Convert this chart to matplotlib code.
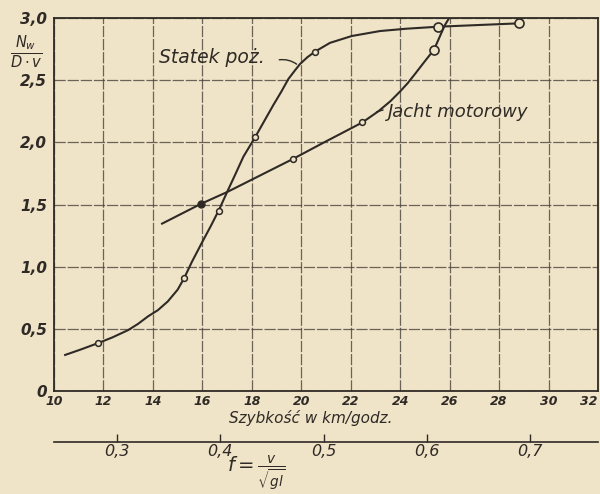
import matplotlib
matplotlib.use("Agg")
import matplotlib.pyplot as plt

# ---- data ----
# "Statek poż." traced curve (speed km/h, Nw/(D·v))
statek_curve_v = [10.45, 11.1, 11.78, 12.35, 13.0, 13.4, 13.8, 14.2, 14.6, 15.0, 15.27, 15.58,
                  16.0, 16.35, 16.68, 17.0, 17.35, 17.66, 18.13, 18.5, 18.87, 19.2, 19.48,
                  19.75, 19.95, 20.25, 20.56, 21.16, 22.04, 23.18, 24.26, 25.54, 28.8]
statek_curve_y = [0.29, 0.335, 0.385, 0.43, 0.49, 0.54, 0.60, 0.65, 0.72, 0.815, 0.91, 1.04,
                  1.20, 1.33, 1.46, 1.60, 1.75, 1.885, 2.04, 2.17, 2.30, 2.41, 2.51,
                  2.58, 2.63, 2.685, 2.73, 2.80, 2.855, 2.895, 2.914, 2.93, 2.957]
statek_pts_v = [11.78, 15.27, 16.68, 18.13, 20.56]
statek_pts_y = [0.385, 0.91, 1.45, 2.04, 2.73]
statek_big_v = [25.54, 28.8]
statek_big_y = [2.93, 2.957]

# "Jacht motorowy" traced curve
jacht_curve_v = [14.37, 15.95, 17.0, 19.67, 20.83, 22.47, 23.12, 23.6, 24.0, 24.3, 24.6,
                 24.95, 25.37, 25.6, 25.8, 25.95]
jacht_curve_y = [1.346, 1.506, 1.60, 1.867, 1.99, 2.16, 2.25, 2.33, 2.41, 2.475, 2.55,
                 2.64, 2.746, 2.85, 2.94, 2.99]
jacht_filled_v = [15.95]
jacht_filled_y = [1.506]
jacht_pts_v = [19.67, 22.47]
jacht_pts_y = [1.867, 2.16]
jacht_big_v = [25.37]
jacht_big_y = [2.746]

x_ticks = [10, 12, 14, 16, 18, 20, 22, 24, 26, 28, 30, 32]
x_labels = ["10", "12", "14", "16", "18", "20", "22", "24", "26", "28", "30", "32"]
y_ticks = [0, 0.5, 1.0, 1.5, 2.0, 2.5, 3.0]
y_labels = ["0", "0,5", "1,0", "1,5", "2,0", "2,5", "3,0"]
f_ticks = [0.3, 0.4, 0.5, 0.6, 0.7]
f_labels = ["0,3", "0,4", "0,5", "0,6", "0,7"]
F_SCALE = 41.8  # km/h per unit of f

# ---- style ----
paper = "#efe3c8"
ink = "#2f2a25"
grid_ink = "#4a433c"
plt.rcParams["font.family"] = ["DejaVu Sans"]
plt.rcParams["mathtext.fontset"] = "dejavusans"

fig = plt.figure(figsize=(6.0, 4.94), dpi=100, facecolor=paper)
ax = fig.add_axes([54 / 600, 1 - 391 / 494, 544 / 600, 373 / 494])
ax.set_facecolor(paper)

ax.set_xlim(10, 32)
ax.set_ylim(0, 3)
ax.set_xticks(x_ticks)
ax.set_xticklabels(x_labels, fontsize=9, style="italic", fontweight="bold", color=ink)
ax.get_xticklabels()[-1].set_horizontalalignment("right")
ax.set_yticks(y_ticks)
ax.set_yticklabels(y_labels, fontsize=11, style="italic", fontweight="bold", color=ink)
ax.tick_params(axis="x", length=0, pad=3)
ax.tick_params(axis="y", length=0, pad=5)
ax.grid(True, color=grid_ink, linewidth=0.9, linestyle=(0, (9, 1.5)), alpha=0.8)
for s in ax.spines.values():
    s.set_color(ink)
    s.set_linewidth(1.3)

# curves
ax.plot(statek_curve_v, statek_curve_y, color=ink, lw=1.5, zorder=3)
ax.plot(jacht_curve_v, jacht_curve_y, color=ink, lw=1.5, zorder=3)
mk = dict(linestyle="none", marker="o", markerfacecolor=paper, markeredgecolor=ink, zorder=4)
ax.plot(statek_pts_v, statek_pts_y, markersize=4.2, markeredgewidth=1.1, **mk)
ax.plot(statek_big_v, statek_big_y, markersize=6.5, markeredgewidth=1.2, **mk)
ax.plot(jacht_pts_v, jacht_pts_y, markersize=4.2, markeredgewidth=1.1, **mk)
ax.plot(jacht_big_v, jacht_big_y, markersize=6.5, markeredgewidth=1.2, **mk)
ax.plot(jacht_filled_v, jacht_filled_y, linestyle="none", marker="o", markersize=5,
        color=ink, zorder=4)

# annotations
ax.text(14.25, 2.68, "Statek poż.", fontsize=13.5, style="italic", color=ink,
        va="center", ha="left")
ax.annotate("", xy=(19.9, 2.615), xytext=(19.0, 2.66),
            arrowprops=dict(arrowstyle="-", color=ink, lw=1.0,
                            connectionstyle="arc3,rad=-0.25"))
ax.text(23.5, 2.24, "Jacht motorowy", fontsize=13, style="italic", color=ink,
        va="center", ha="left")
ax.plot([23.05, 23.3], [2.245, 2.26], color=ink, lw=1.0)

# secondary f axis
sec = ax.secondary_xaxis(-0.1375, functions=(lambda v: v / F_SCALE, lambda f: f * F_SCALE))
sec.set_xticks(f_ticks)
sec.set_xticklabels(f_labels, fontsize=11.5, style="italic", color=ink)
sec.tick_params(direction="in", length=6, width=1.0, color=ink, pad=1)
sec.spines["bottom"].set_color(ink)
sec.spines["bottom"].set_linewidth(1.2)

# axis titles
fig.text(311 / 600, 1 - 418 / 494, "Szybkość w km/godz.", fontsize=11, style="italic",
         color=ink, ha="center", va="center")
fig.text(256 / 600, 1 - 473 / 494, r"$f=\frac{v}{\sqrt{gl}}$", fontsize=14,
         color=ink, ha="center", va="center")
fig.text(26 / 600, 1 - 52 / 494, r"$\frac{N_w}{D\cdot v}$", fontsize=15,
         color=ink, ha="center", va="center")

fig.savefig("out.png", dpi=100, facecolor=paper)
